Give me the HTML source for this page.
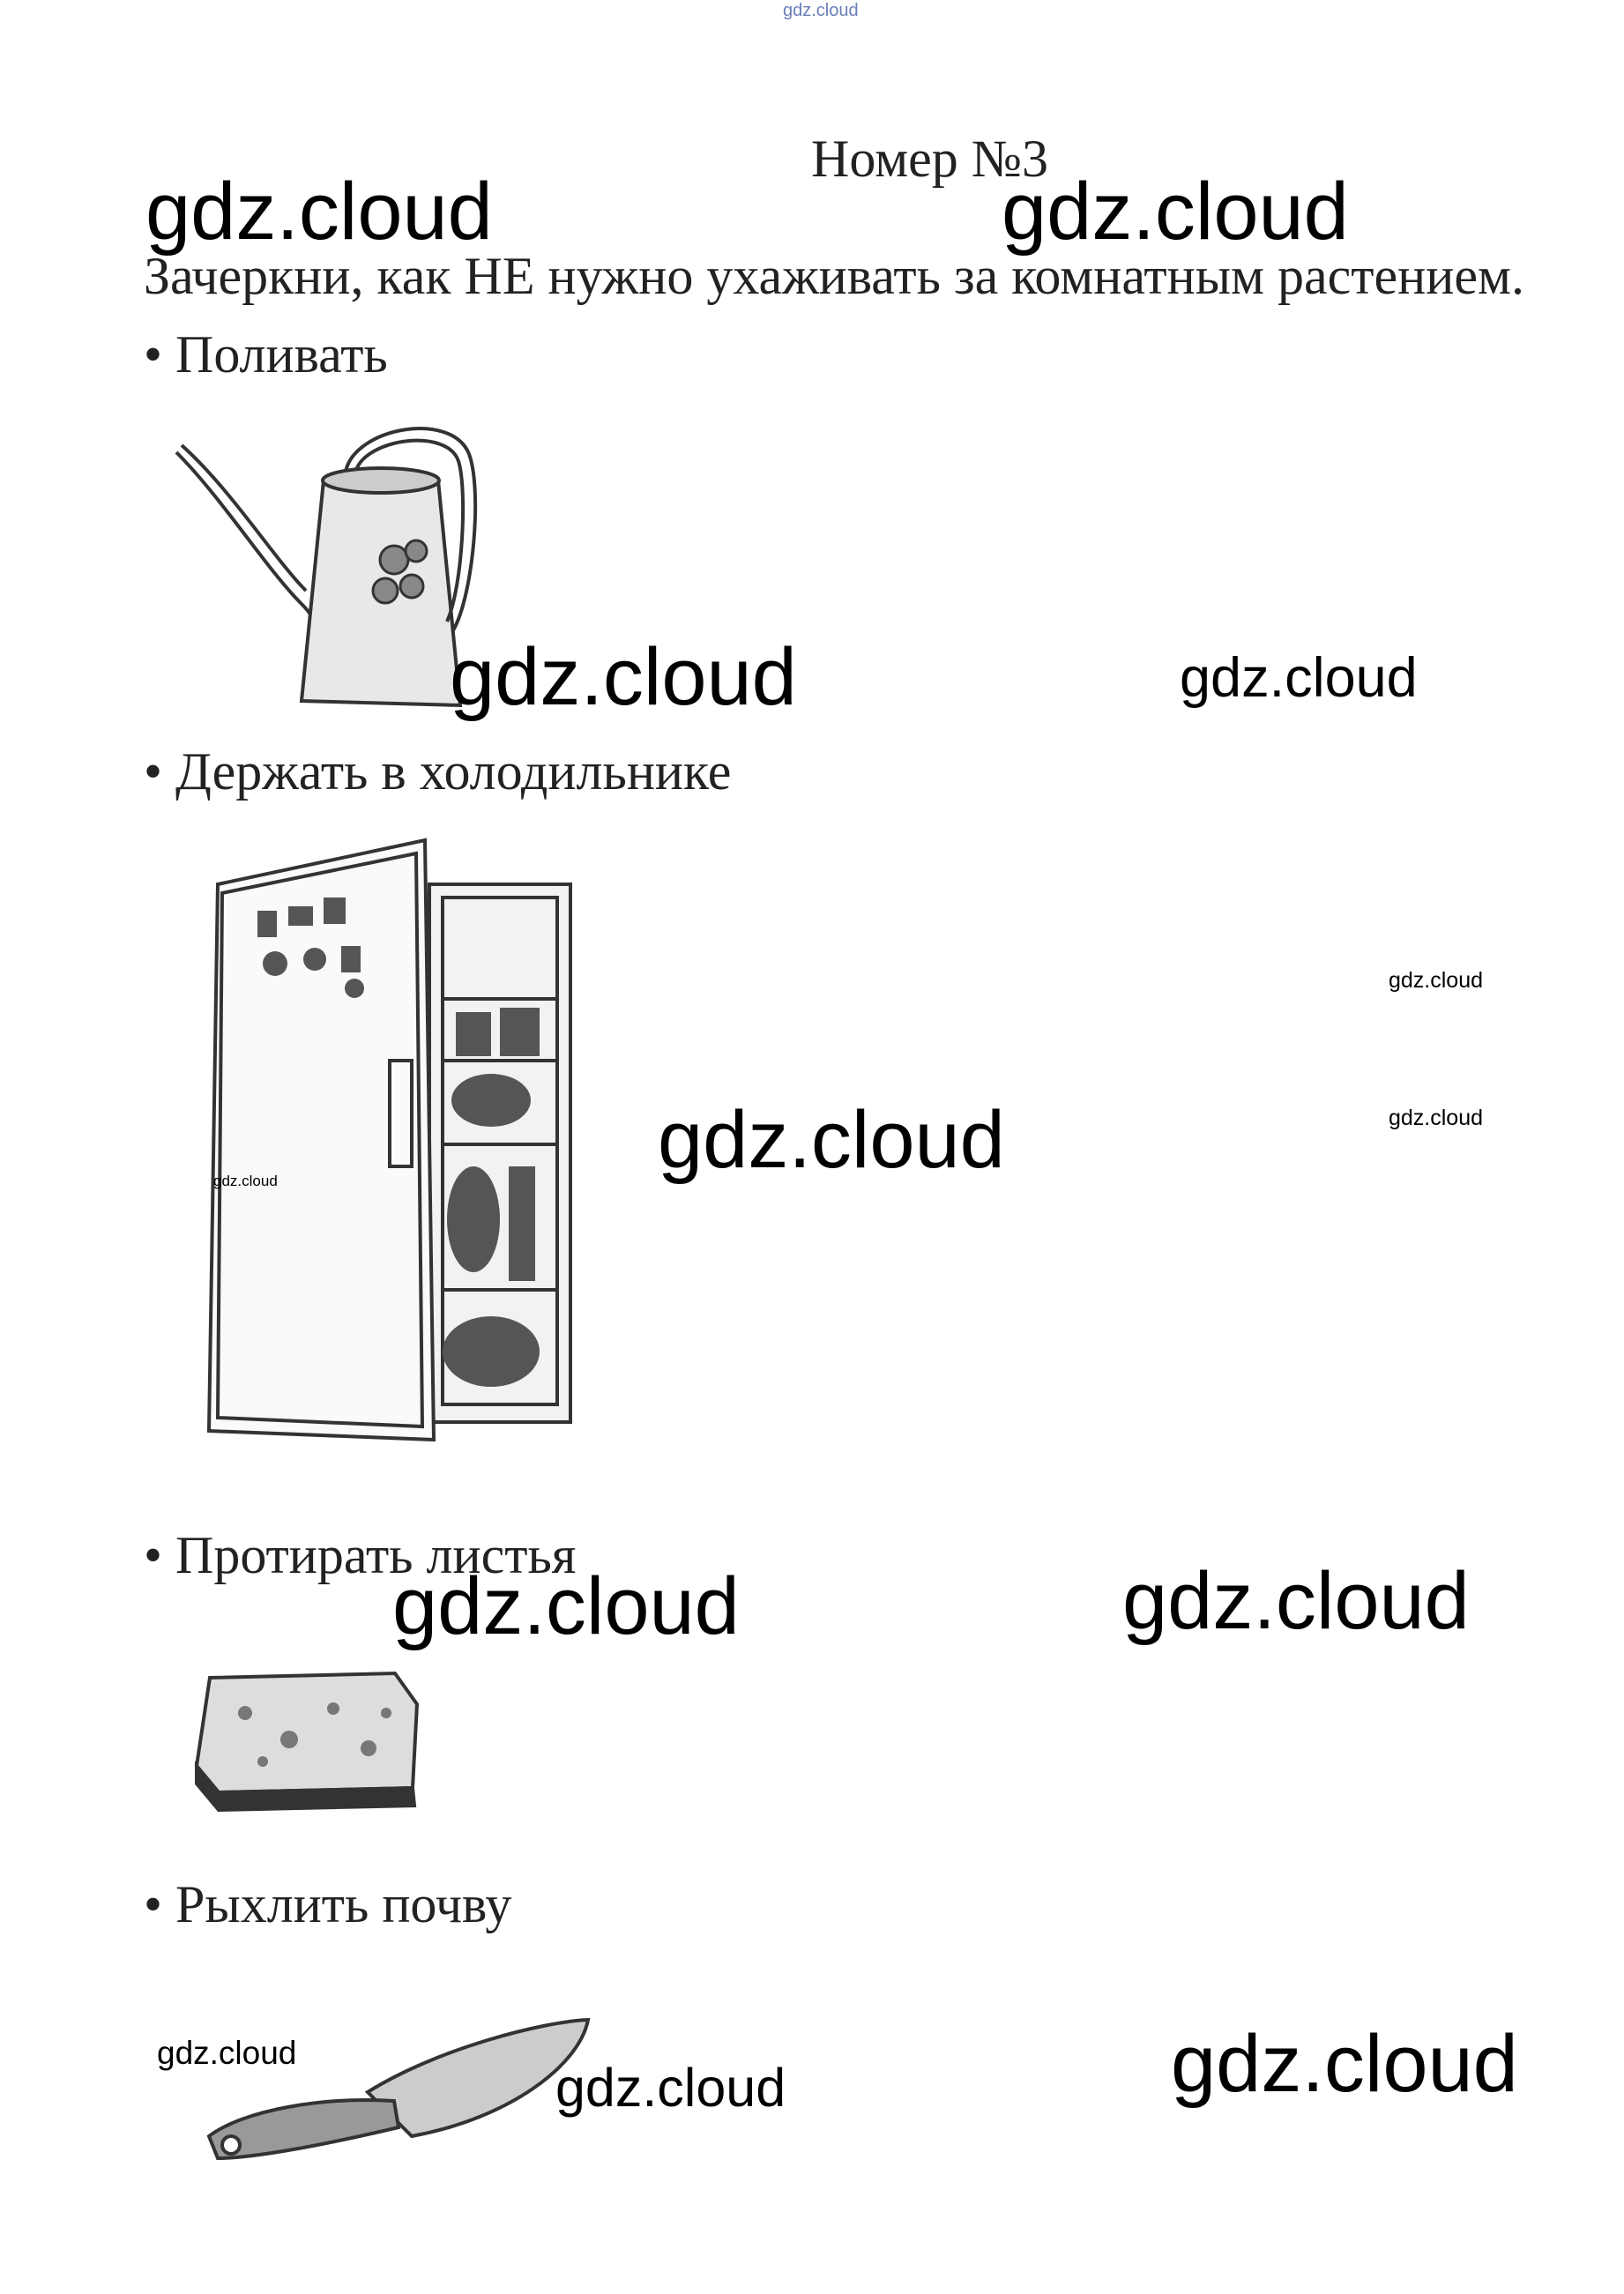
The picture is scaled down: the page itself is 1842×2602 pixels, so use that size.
<!DOCTYPE html>
<html><head><meta charset="utf-8">
<style>
html,body{margin:0;padding:0;background:#fff;}
body{width:1842px;height:2602px;position:relative;overflow:hidden;}
.t{position:absolute;white-space:nowrap;line-height:1;color:#111;}
.s{font-family:"Liberation Serif","Noto Serif CJK SC",serif;font-size:60px;color:#222;}
.g{font-family:"Liberation Sans","DejaVu Sans",sans-serif;color:#000;}
svg{position:absolute;}
</style></head><body>
<div class="t g" style="left:888px;top:2px;font-size:20px;color:#6a7fb8;">gdz.cloud</div>
<div class="t s" style="left:920px;top:150px;">Номер №3</div>
<div class="t g" style="left:165px;top:194px;font-size:92px;">gdz.cloud</div>
<div class="t g" style="left:1136px;top:194px;font-size:92px;">gdz.cloud</div>
<div class="t s" style="left:163px;top:283px;">Зачеркни, как НЕ нужно ухаживать за комнатным растением.</div>
<div class="t s" style="left:163px;top:372px;">• Поливать</div>

<svg style="left:192px;top:475px" width="380" height="345" viewBox="0 0 380 345">
 <g fill="none" stroke="#333" stroke-width="4">
  <path d="M8 38 C60 90 110 170 150 210 C170 230 175 250 160 260"/>
  <path d="M14 30 C70 80 120 160 155 195"/>
  <path d="M175 70 L150 320 L330 325 L305 70 Z" fill="#e8e8e8"/>
  <ellipse cx="240" cy="70" rx="66" ry="14" fill="#ccc"/>
  <path d="M200 60 C210 10 320 -10 340 40 C355 80 345 200 322 240"/>
  <path d="M212 58 C225 22 315 10 328 48 C338 80 333 190 315 230"/>
 </g>
 <g fill="#888" stroke="#333" stroke-width="3">
  <circle cx="255" cy="160" r="16"/><circle cx="280" cy="150" r="12"/><circle cx="245" cy="195" r="14"/><circle cx="275" cy="190" r="13"/>
 </g>
</svg>

<div class="t g" style="left:510px;top:722px;font-size:92px;">gdz.cloud</div>
<div class="t g" style="left:1338px;top:738px;font-size:63px;">gdz.cloud</div>
<div class="t s" style="left:163px;top:845px;">• Держать в холодильнике</div>

<svg style="left:217px;top:933px" width="440" height="715" viewBox="0 0 440 715">
 <g fill="none" stroke="#333" stroke-width="4">
  <rect x="270" y="70" width="160" height="610" fill="#f2f2f2"/>
  <rect x="285" y="85" width="130" height="575"/>
  <line x1="285" y1="200" x2="415" y2="200"/>
  <line x1="285" y1="270" x2="415" y2="270"/>
  <line x1="285" y1="365" x2="415" y2="365"/>
  <line x1="285" y1="530" x2="415" y2="530"/>
  <path d="M30 70 L265 20 L275 700 L20 690 Z" fill="#fafafa"/>
  <path d="M35 80 L255 35 L262 685 L30 675 Z"/>
  <rect x="225" y="270" width="25" height="120"/>
 </g>
 <g fill="#555">
  <rect x="75" y="100" width="22" height="30"/><rect x="110" y="95" width="28" height="22"/><rect x="150" y="85" width="25" height="30"/>
  <circle cx="95" cy="160" r="14"/><circle cx="140" cy="155" r="13"/><rect x="170" y="140" width="22" height="30"/>
  <circle cx="185" cy="188" r="11"/>
  <rect x="300" y="215" width="40" height="50"/><rect x="350" y="210" width="45" height="55"/>
  <ellipse cx="340" cy="315" rx="45" ry="30"/>
  <ellipse cx="320" cy="450" rx="30" ry="60"/><rect x="360" y="390" width="30" height="130"/>
  <ellipse cx="340" cy="600" rx="55" ry="40"/>
 </g>
</svg>

<div class="t g" style="left:1575px;top:1100px;font-size:25px;">gdz.cloud</div>
<div class="t g" style="left:746px;top:1247px;font-size:92px;">gdz.cloud</div>
<div class="t g" style="left:1575px;top:1256px;font-size:25px;">gdz.cloud</div>
<div class="t g" style="left:242px;top:1331px;font-size:17px;">gdz.cloud</div>

<div class="t s" style="left:163px;top:1734px;">• Протирать листья</div>
<div class="t g" style="left:445px;top:1776px;font-size:92px;">gdz.cloud</div>
<div class="t g" style="left:1273px;top:1770px;font-size:92px;">gdz.cloud</div>

<svg style="left:208px;top:1883px" width="280" height="180" viewBox="0 0 280 180">
 <g stroke="#333" stroke-width="4">
  <path d="M30 20 L240 15 L265 50 L260 145 L40 150 L15 120 Z" fill="#ddd"/>
  <path d="M15 120 L40 150 L260 145 L262 165 L40 170 L15 140 Z" fill="#333"/>
 </g>
 <g fill="#777"><circle cx="70" cy="60" r="8"/><circle cx="120" cy="90" r="10"/><circle cx="170" cy="55" r="7"/><circle cx="210" cy="100" r="9"/><circle cx="90" cy="115" r="6"/><circle cx="230" cy="60" r="6"/></g>
</svg>

<div class="t s" style="left:163px;top:2130px;">• Рыхлить почву</div>

<svg style="left:217px;top:2283px" width="460" height="180" viewBox="0 0 460 180">
 <g stroke="#333" stroke-width="4">
  <path d="M200 90 C280 40 400 10 450 8 C440 60 360 120 250 140 Z" fill="#ccc"/>
  <path d="M20 140 C60 110 150 95 230 100 L235 130 C150 150 70 165 30 165 Z" fill="#999"/>
  <circle cx="45" cy="150" r="10" fill="#fff"/>
 </g>
</svg>

<div class="t g" style="left:178px;top:2310px;font-size:37px;">gdz.cloud</div>
<div class="t g" style="left:1328px;top:2295px;font-size:92px;">gdz.cloud</div>
<div class="t g" style="left:630px;top:2338px;font-size:61px;">gdz.cloud</div>
</body></html>
